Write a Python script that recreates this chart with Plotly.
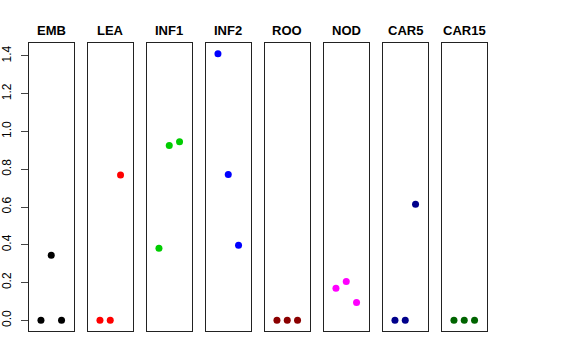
import plotly.graph_objects as go

categories = ["EMB", "LEA", "INF1", "INF2", "ROO", "NOD", "CAR5", "CAR15"]
colors = ["#000000", "#FF0000", "#00CD00", "#0000FF", "#8B0000", "#FF00FF", "#00008B", "#006400"]
x_positions = [1, 2, 3]
values = [
    [0.0, 0.345, 0.0],
    [0.0, 0.0, 0.770],
    [0.382, 0.926, 0.946],
    [1.412, 0.772, 0.398],
    [0.0, 0.0, 0.0],
    [0.170, 0.205, 0.094],
    [0.0, 0.0, 0.615],
    [0.0, 0.0, 0.0],
]
y_ticks = [0.0, 0.2, 0.4, 0.6, 0.8, 1.0, 1.2, 1.4]
y_tick_labels = ["0.0", "0.2", "0.4", "0.6", "0.8", "1.0", "1.2", "1.4"]

W, H = 576, 360
left0, step, pw = 29, 59, 44.5
top_px, bot_px = 43, 331

fig = go.Figure()
layout = dict(
    width=W, height=H,
    margin=dict(l=0, r=0, t=0, b=0, autoexpand=False),
    paper_bgcolor="white", plot_bgcolor="white",
    showlegend=False,
    font=dict(family="Liberation Sans, Arial, sans-serif", color="black"),
    annotations=[],
)
ydom = [1 - bot_px / H, 1 - top_px / H]
for i, (cat, col, vals) in enumerate(zip(categories, colors, values)):
    n = "" if i == 0 else str(i + 1)
    fig.add_trace(go.Scatter(
        x=x_positions, y=vals, mode="markers",
        marker=dict(color=col, size=7),
        xaxis="x" + n, yaxis="y" + n,
    ))
    x0 = left0 + step * i
    layout["xaxis" + n] = dict(
        domain=[x0 / W, (x0 + pw) / W], range=[-0.16, 4.16],
        showgrid=False, zeroline=False, showticklabels=False, ticks="",
        showline=True, mirror=True, linecolor="#222", linewidth=1,
        anchor="y" + n, fixedrange=True, automargin=False,
    )
    ya = dict(
        domain=ydom, range=[-0.0565, 1.4685],
        showgrid=False, zeroline=False,
        showline=True, mirror=True, linecolor="#222", linewidth=1,
        anchor="x" + n, fixedrange=True, automargin=False,
    )
    if i == 0:
        ya.update(tickvals=y_ticks, ticktext=y_tick_labels, ticks="outside",
                  ticklen=7, tickcolor="#444", tickangle=-90,
                  ticklabelstandoff=5,
                  tickfont=dict(size=12, color="black"), showticklabels=True)
    else:
        ya.update(showticklabels=False, ticks="")
    layout["yaxis" + n] = ya
    layout["annotations"].append(dict(
        x=(x0 + pw / 2) / W, y=1 - 30 / H, xref="paper", yref="paper",
        text="<b>" + cat + "</b>", showarrow=False,
        font=dict(size=13, color="black"), xanchor="center", yanchor="middle",
    ))

fig.update_layout(**layout)
fig.write_html("out.html", config={"displayModeBar": False},
               post_script="document.body.style.margin='0';")
